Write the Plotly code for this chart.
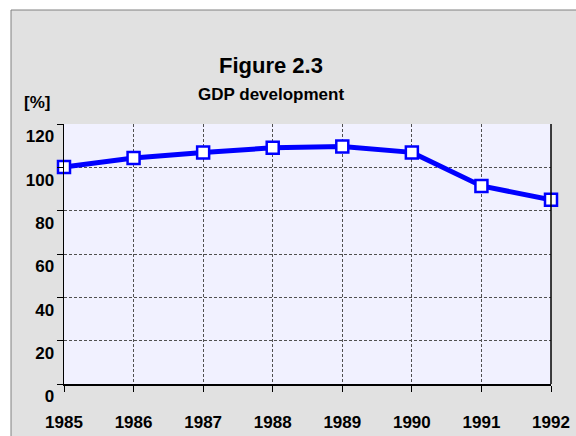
import plotly.graph_objects as go

years = [1985, 1986, 1987, 1988, 1989, 1990, 1991, 1992]
gdp = [100.2, 104.3, 106.8, 109.0, 109.6, 106.9, 91.4, 85.0]
y_ticks = [0, 20, 40, 60, 80, 100, 120]
title_main = "Figure 2.3"
title_sub = "GDP development"
y_unit = "[%]"

FONT = "Liberation Sans, Arial, sans-serif"
L, R, T, B = 64, 25, 124, 52
W, H = 576, 436
pw, ph = W - L - R, H - T - B


def px_x(x):
    return (x - L) / pw


def px_y(y):
    return (H - B - y) / ph


fig = go.Figure()
fig.add_trace(go.Scatter(
    x=years, y=gdp, mode="lines+markers",
    line=dict(color="#0000ff", width=5),
    marker=dict(symbol="square", size=12, color="white",
                line=dict(color="#0000ff", width=2.5)),
    cliponaxis=False, showlegend=False, hoverinfo="skip",
))

shapes = [
    dict(type="rect", xref="paper", yref="paper", layer="below",
         x0=px_x(11), x1=px_x(W + 10), y0=px_y(10), y1=px_y(H + 10),
         fillcolor="#e1e1e1", line=dict(color="#808080", width=1)),
    dict(type="rect", xref="paper", yref="paper", layer="below",
         x0=0, x1=1, y0=0, y1=1, fillcolor="#f1f1ff", line=dict(width=0)),
    dict(type="line", xref="paper", yref="paper", layer="above",
         x0=1, x1=1, y0=0, y1=1, line=dict(color="black", width=1.5)),
]

annotations = [
    dict(text=title_main, xref="paper", yref="paper", x=px_x(270.5), y=px_y(66),
         xanchor="center", yanchor="middle", showarrow=False,
         font=dict(family=FONT, size=22, color="black", weight="bold")),
    dict(text=title_sub, xref="paper", yref="paper", x=px_x(270.5), y=px_y(95),
         xanchor="center", yanchor="middle", showarrow=False,
         font=dict(family=FONT, size=17, color="black", weight="bold")),
    dict(text=y_unit, xref="paper", yref="paper", x=px_x(37), y=px_y(102),
         xanchor="center", yanchor="middle", showarrow=False,
         font=dict(family=FONT, size=17, color="black", weight="bold")),
]

fig.update_layout(
    template="none",
    width=W, height=H,
    margin=dict(l=L, r=R, t=T, b=B, pad=0, autoexpand=False),
    paper_bgcolor="white", plot_bgcolor="#f1f1ff",
    shapes=shapes, annotations=annotations,
    font=dict(family=FONT, size=17, color="black", weight="bold"),
)
fig.update_xaxes(
    automargin=False,
    range=[years[0], years[-1]], tickvals=years, ticktext=[str(y) for y in years],
    showgrid=True, gridcolor="#505050", griddash="3px,2px", gridwidth=1,
    showline=True, linecolor="black", linewidth=1.5,
    ticks="outside", ticklen=6, tickcolor="black", tickwidth=1,
    ticklabelstandoff=16, zeroline=False,
    tickfont=dict(family=FONT, size=17, color="black", weight="bold"),
)
fig.update_yaxes(
    automargin=False,
    range=[0, 120], tickvals=y_ticks, ticktext=[str(v) for v in y_ticks],
    showgrid=True, gridcolor="#505050", griddash="3px,2px", gridwidth=1,
    showline=True, linecolor="black", linewidth=1.5,
    ticks="outside", ticklen=6, tickcolor="black", tickwidth=1,
    ticklabelposition="outside bottom", ticklabelstandoff=5, zeroline=False,
    tickfont=dict(family=FONT, size=17, color="black", weight="bold"),
)

fig.write_html(
    "out.html",
    config={"displayModeBar": False, "staticPlot": True},
    post_script="document.body.style.margin='0';document.body.style.overflow='hidden';",
)
